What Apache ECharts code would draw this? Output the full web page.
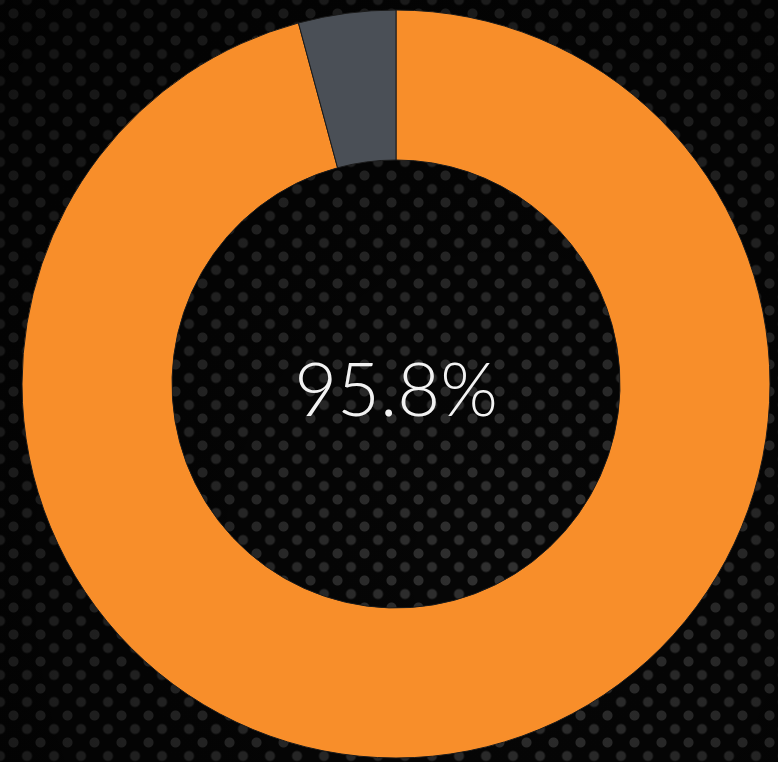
<!DOCTYPE html>
<html>
<head>
<meta charset="utf-8">
<script src="https://cdn.jsdelivr.net/npm/echarts@6/dist/echarts.min.js"></script>
<style>
  html, body { margin: 0; padding: 0; background: #000; }
  #main {
    width: 778px; height: 762px;
    background-color: #060606;
    background-image:
      radial-gradient(ellipse at 65% 75%, rgba(0,0,0,0) 0%, rgba(0,0,0,0.6) 95%),
      radial-gradient(circle, #303030 0, #303030 4.5px, rgba(0,0,0,0) 5.5px),
      radial-gradient(circle, #303030 0, #303030 4.5px, rgba(0,0,0,0) 5.5px);
    background-size: 100% 100%, 27px 27px, 27px 27px;
    background-position: 0 0, 0 0, 13.5px 13.5px;
  }
</style>
</head>
<body>
<div id="main"></div>
<script>
// 数据
var names = ['完成', '未完成'];
var values = [95.8, 4.2];
var colors = ['#F88E2A', '#4A4F56'];
var centerText = '95.8%';

var myChart = echarts.init(document.getElementById('main'));

var option = {
    backgroundColor: 'transparent',
    animation: false,
    graphic: [{
        type: 'text',
        x: 396,
        y: 392,
        style: {
            text: centerText,
            fill: '#f2f2f2',
            font: '300 74px Lato, "Open Sans", sans-serif',
            align: 'center',
            verticalAlign: 'middle'
        }
    }],
    series: [{
        type: 'pie',
        center: [396, 384],
        radius: [224, 374],
        startAngle: 90,
        clockwise: true,
        silent: true,
        label: { show: false },
        labelLine: { show: false },
        itemStyle: { borderColor: '#1b1b1b', borderWidth: 1 },
        data: names.map(function (n, i) {
            return { name: n, value: values[i], itemStyle: { color: colors[i] } };
        })
    }]
};

myChart.setOption(option);
</script>
</body>
</html>
